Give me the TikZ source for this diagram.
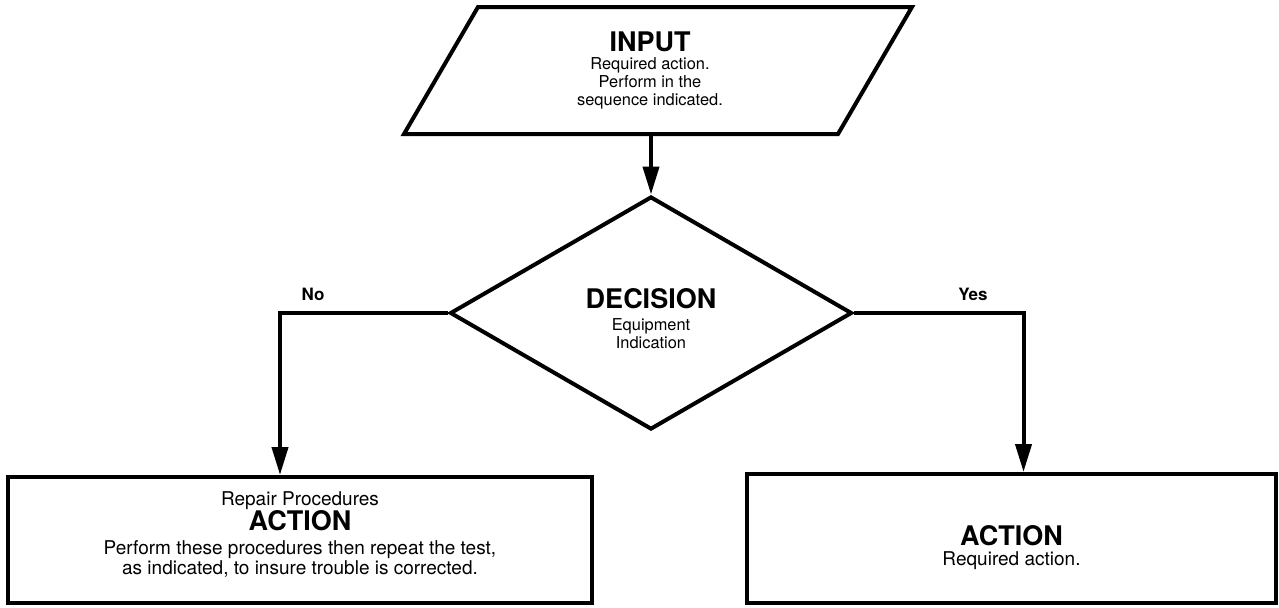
\documentclass[tikz,border=0pt]{standalone}
\usepackage{fontspec}
\setmainfont{TeX Gyre Heros}
\usetikzlibrary{arrows.meta,calc,shapes.geometric}
\newcommand{\headline}[1]{{\fontsize{13.5}{13.5}\selectfont\bfseries #1}}

\begin{document}
\begin{tikzpicture}[x=0.5pt,y=-0.5pt,every node/.style={font=\fontsize{8.2}{9}\selectfont},
  flowbox/.style={draw,line width=2pt,align=center,inner sep=0pt},
  flowline/.style={-{Triangle[length=14pt,width=8pt]},line width=2pt},
  boxtext/.style={align=center,font=\fontsize{9.5}{10}\selectfont},
  branchlabel/.style={font=\fontsize{8.5}{9}\selectfont\bfseries}]
\useasboundingbox (0,0) rectangle (1279,607);
% input parallelogram
\draw[line width=2pt] (478,7) -- (912,7) -- (838,134) -- (404,134) -- cycle;
\node[align=center] (input) at (650,70) {\headline{INPUT}\\[0pt]Required action.\\Perform in the\\sequence indicated.};
\coordinate (inbot) at (651,134);
% decision
\node[flowbox,diamond,minimum width=201pt,minimum height=116.5pt] (dec) at (651,313) {};
\node[align=center] (dectext) at (651,319) {\headline{DECISION}\\[2pt]Equipment\\Indication};
% actions
\node[flowbox,boxtext,minimum width=292pt,minimum height=63pt] (repair) at (300,540) {Repair Procedures\\[-1pt]\headline{ACTION}\\[2pt]Perform these procedures then repeat the test,\\as indicated, to insure trouble is corrected.\rule[-7pt]{0pt}{0pt}};
\node[flowbox,boxtext,minimum width=264.5pt,minimum height=64.5pt] (done) at (1011.5,538.5) {\rule{0pt}{19pt}\headline{ACTION}\\[0pt]Required action.};
\node[branchlabel] (nolab) at (313,294) {No};
\node[branchlabel] (yeslab) at (973,294) {Yes};
% connectors
\draw[flowline] (inbot) -- (dec.north);
\draw[flowline] (dec.west) -| ($(repair.north)+(-20,0)$);
\draw[flowline] (dec.east) -| ($(done.north)+(12,0)$);
\end{tikzpicture}
\end{document}
